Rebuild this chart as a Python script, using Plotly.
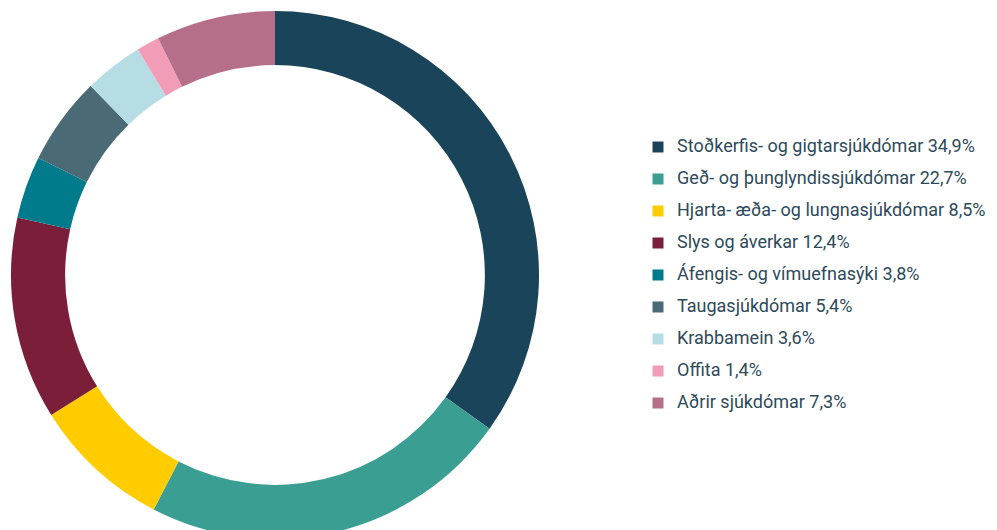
import plotly.graph_objects as go

categories = [
    "Stoðkerfis- og gigtarsjúkdómar",
    "Geð- og þunglyndissjúkdómar",
    "Hjarta- æða- og lungnasjúkdómar",
    "Slys og áverkar",
    "Áfengis- og vímuefnasýki",
    "Taugasjúkdómar",
    "Krabbamein",
    "Offita",
    "Aðrir sjúkdómar",
]
values = [34.9, 22.7, 8.5, 12.4, 3.8, 5.4, 3.6, 1.4, 7.3]
value_labels = ["34,9%", "22,7%", "8,5%", "12,4%", "3,8%", "5,4%", "3,6%", "1,4%", "7,3%"]
colors = ["#1a4459", "#3a9e93", "#ffcc00", "#7b1e3a", "#007b8c",
          "#4a6b75", "#b6dce4", "#f29cb8", "#b56f8a"]

W, H = 997, 550
text_color = "#2d4a5a"
font_family = "Roboto"

# donut geometry in pixels (from top-left)
cx, cy, r = 275, 275, 264

fig = go.Figure()

fig.add_trace(go.Pie(
    labels=categories,
    values=values,
    sort=False,
    direction="clockwise",
    rotation=0,
    hole=0.795,
    marker=dict(colors=colors, line=dict(width=0)),
    textinfo="none",
    hoverinfo="label+percent",
    showlegend=False,
    domain=dict(x=[(cx - r) / W, (cx + r) / W], y=[(H - cy - r) / H, (H - cy + r) / H]),
))

legend_text = [f"{c} {v}" for c, v in zip(categories, value_labels)]
idx = list(range(len(categories)))
text_offset = 19

fig.add_trace(go.Scatter(
    x=[0] * len(categories),
    y=idx,
    mode="markers",
    marker=dict(symbol="square", size=11, color=colors, line=dict(width=0)),
    hoverinfo="skip",
    showlegend=False,
    cliponaxis=False,
))
fig.add_trace(go.Scatter(
    x=[text_offset] * len(categories),
    y=idx,
    mode="text",
    text=legend_text,
    textposition="middle right",
    textfont=dict(family=font_family, size=18, color=text_color),
    hoverinfo="skip",
    showlegend=False,
    cliponaxis=False,
))

spacing = 32
first_y = 147
marker_x = 658
fig.update_layout(
    width=W, height=H,
    margin=dict(l=0, r=0, t=0, b=0),
    paper_bgcolor="white",
    plot_bgcolor="rgba(0,0,0,0)",
    font=dict(family=font_family, color=text_color),
    xaxis=dict(visible=False, range=[-marker_x, W - marker_x], domain=[0, 1], fixedrange=True),
    yaxis=dict(visible=False, range=[(H - first_y) / spacing, -first_y / spacing], domain=[0, 1], fixedrange=True),
    showlegend=False,
)

fig.write_html(
    "out.html",
    config={"displayModeBar": False},
    post_script="document.body.style.margin='0';document.documentElement.style.overflow='hidden';document.body.style.overflow='hidden';",
)
